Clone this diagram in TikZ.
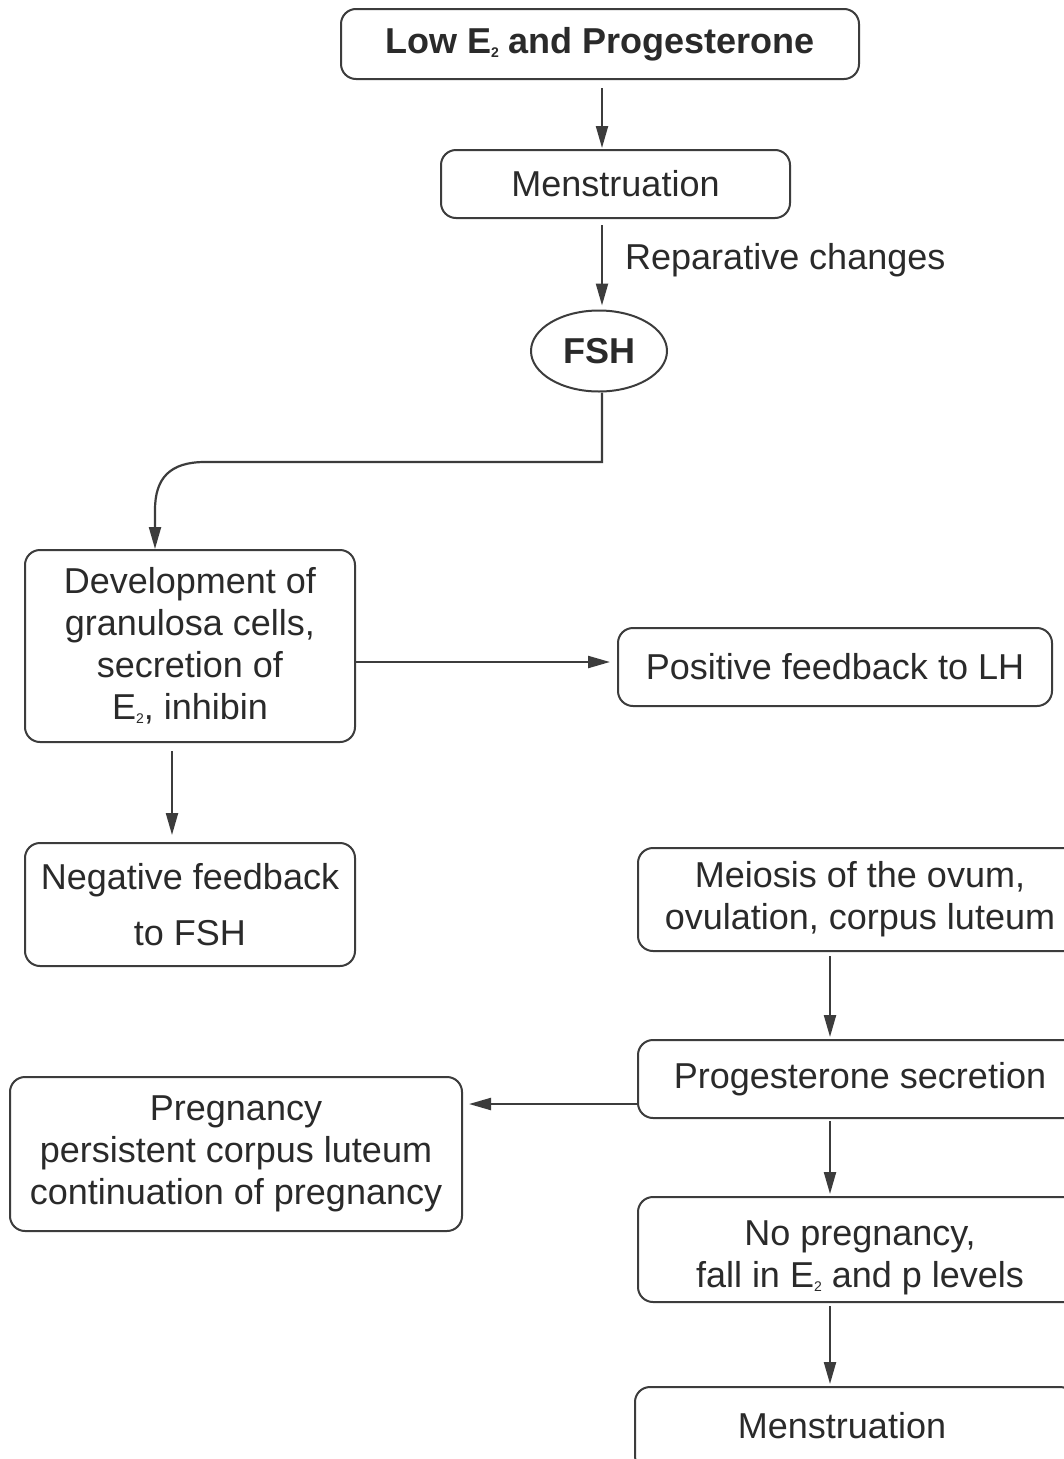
\documentclass[tikz,border=0pt]{standalone}
\usepackage{fontspec}
\setmainfont{Liberation Sans}
\usetikzlibrary{arrows.meta,shapes.geometric}
\definecolor{ink}{HTML}{2A2A2A}
\definecolor{linec}{HTML}{3C3C3C}
\newcommand\Etwo{E\raisebox{-4pt}{\fontsize{14}{14}\selectfont 2}}
\begin{document}
\begin{tikzpicture}[x=1pt,y=-1pt,
  every node/.style={text=ink,font=\fontsize{36}{42}\selectfont,align=center,inner sep=0pt},
  boxn/.style={draw=linec,line width=2pt,rounded corners=15pt,rectangle},
  arr/.style={draw=linec,line width=2.2pt,-{Triangle[length=22pt,width=12pt]}}]
\useasboundingbox (0,0) rectangle (1064,1459);
\clip (0,0) rectangle (1064,1459);
\fill[white] (0,0) rectangle (1064,1459);

\node[boxn,minimum width=518pt,minimum height=70pt] (low) at (600,44) {\bfseries Low \Etwo{} and Progesterone};
\node[boxn,minimum width=349pt,minimum height=68pt] (men1) at (615.5,184) {Menstruation};
\node[draw=linec,line width=2pt,ellipse,minimum width=136pt,minimum height=81pt] (fsh) at (599,351) {\bfseries FSH};
\node[anchor=west] (rep) at (625,260) {Reparative changes};
\node[boxn,minimum width=330pt,minimum height=192pt] (dev) at (190,646) {Development of\\granulosa cells,\\secretion of\\\Etwo, inhibin};
\node[boxn,minimum width=434pt,minimum height=78pt] (pos) at (835,667) {Positive feedback to LH};
\node[boxn,minimum width=330pt,minimum height=123pt] (neg) at (190,904.5) {Negative feedback\\[14pt]to FSH};
\node[boxn,minimum width=444pt,minimum height=103pt] (mei) at (860,899.5) {Meiosis of the ovum,\\ovulation, corpus luteum};
\node[boxn,minimum width=444pt,minimum height=78pt] (prog) at (860,1079) {Progesterone secretion};
\node[boxn,minimum width=452pt,minimum height=154pt] (preg) at (236,1154) {Pregnancy\\persistent corpus luteum\\continuation of pregnancy};
\node[boxn,minimum width=444pt,minimum height=105pt] (nop) at (860,1249.5) {};
\node (nopt) at (860,1258) {No pregnancy,\\fall in \Etwo{} and p levels};
\node[boxn,minimum width=440pt,minimum height=84pt] (men2) at (855,1429) {};
\node (men2t) at (842,1426) {Menstruation};

\coordinate (xa) at (602,0);
\coordinate (xl) at (155,0);
\coordinate (xd) at (172,0);
\coordinate (xr) at (830,0);
\coordinate (yp) at (0,662);
\coordinate (yq) at (0,1104);

\draw[arr,shorten <=8pt,shorten >=1pt] (low.south -| xa) -- (men1.north -| xa);
\draw[arr,shorten <=6pt,shorten >=4pt] (men1.south -| xa) -- (fsh.north -| xa);
\draw[arr] (fsh.south -| xa) -- (602,462) -- (205,462) .. controls (170,462) and (155,478) .. (155,510) -- (dev.north -| xl);
\draw[arr,shorten >=7pt] (dev.east |- yp) -- (pos.west |- yp);
\draw[arr,shorten <=8pt,shorten >=7pt] (dev.south -| xd) -- (neg.north -| xd);
\draw[arr,shorten <=4pt,shorten >=2pt] (mei.south -| xr) -- (prog.north -| xr);
\draw[arr,shorten >=6pt] (prog.west |- yq) -- (preg.east |- yq);
\draw[arr,shorten <=2pt,shorten >=2pt] (prog.south -| xr) -- (nop.north -| xr);
\draw[arr,shorten <=3pt,shorten >=2pt] (nop.south -| xr) -- (men2.north -| xr);
\end{tikzpicture}
\end{document}
